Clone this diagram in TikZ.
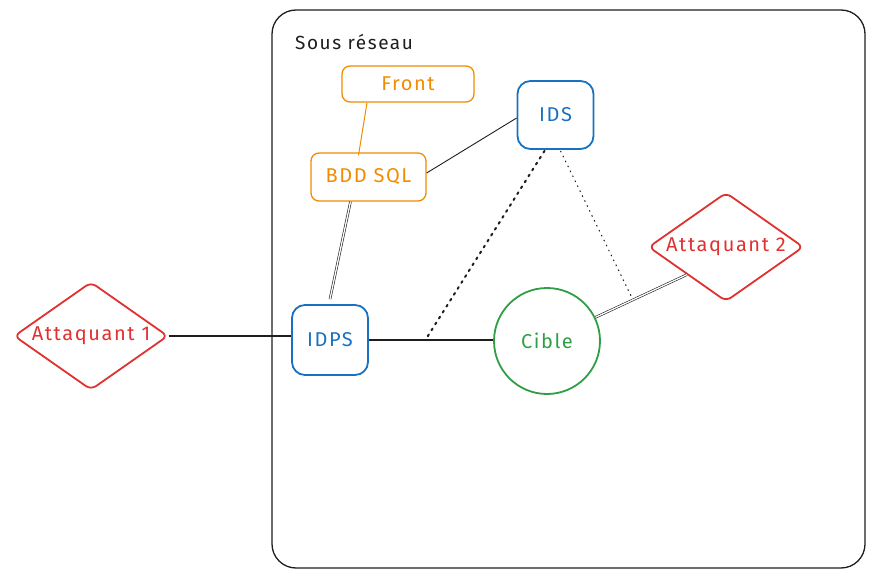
\documentclass[tikz,border=0pt]{standalone}
\usepackage{fontspec}
\setmainfont{Fira Sans}[LetterSpace=8]
\usetikzlibrary{shapes.geometric,calc}
\definecolor{exorange}{HTML}{F08C00}
\definecolor{exblue}{HTML}{1971C2}
\definecolor{exgreen}{HTML}{2F9E44}
\definecolor{exred}{HTML}{E03131}
\definecolor{exblack}{HTML}{1E1E1E}
\tikzset{
  lbl/.style={font=\fontsize{20}{24}\selectfont},
  orangebox/.style={draw=exorange, text=exorange, line width=1.3pt, rounded corners=8pt, lbl, inner sep=0pt},
  bluebox/.style={draw=exblue, text=exblue, line width=1.8pt, rounded corners=13pt, lbl, inner sep=0pt, minimum width=76pt},
  attacker/.style={draw=exred, text=exred, line width=1.8pt, diamond, aspect=1.43, inner sep=0pt, rounded corners=6pt, lbl},
  target/.style={draw=exgreen, text=exgreen, line width=1.8pt, circle, minimum size=106pt, inner sep=0pt, lbl},
  link/.style={draw=exblack, line width=0.9pt},
  thicklink/.style={draw=exblack, line width=2pt},
  dbl/.style={draw=exblack, double=white, double distance=1.3pt, line width=0.6pt},
  dotthick/.style={draw=exblack, line width=2pt, dash pattern=on 2pt off 5pt, line cap=round},
  dotthin/.style={draw=exblack, line width=1pt, dash pattern=on 1.5pt off 4pt},
}
\begin{document}
\begin{tikzpicture}[x=1pt,y=-1pt]
\useasboundingbox (0,0) rectangle (876,580);
% subnet frame
\node[draw=exblack, line width=1.3pt, rounded corners=24pt, minimum width=593pt, minimum height=558pt, inner sep=0pt] (subnet) at (568.5,289) {};
\node[anchor=west, text=exblack, inner sep=0pt, font=\fontsize{19}{22}\selectfont] (title) at (295,42) {Sous réseau};
% nodes
\node[orangebox, minimum width=132pt, minimum height=36pt] (front) at (408,84) {Front};
\node[orangebox, minimum width=115pt, minimum height=48pt] (bdd) at (368.5,177) {BDD SQL};
\node[bluebox, minimum height=68pt] (ids) at (555.5,115) {IDS};
\node[bluebox, minimum height=70pt] (idps) at (330,340) {IDPS};
\node[target] (cible) at (547,341) {Cible};
\node[attacker, minimum width=154pt, minimum height=108pt] (att1) at (91,336) {Attaquant 1};
\node[attacker, minimum width=155pt, minimum height=109pt] (att2) at (726,247) {Attaquant 2};
\coordinate (j) at (426,339);
\coordinate (k) at (633,300);
% connectors
\draw[exorange, line width=1pt] ($(front.south)+(-41,0)$) -- ($(bdd.north)+(-10,3)$);
\draw[link] ($(bdd.east)+(0,-4)$) -- ($(ids.west)+(0,3)$);
\draw[dbl] ($(bdd.south)+(-18,0)$) -- ($(idps.north)+(0,-5)$);
\draw[thicklink] (att1.east) -- (att1.east -| idps.west);
\draw[thicklink] (idps.east) -- (idps.east -| cible.west);
\draw[dotthick] ($(ids.south)+(-11,1)$) -- (j);
\draw[dotthin] ($(ids.south)+(5,1)$) -- (k);
\draw[dbl] (cible.26) -- (att2.south west);
\end{tikzpicture}
\end{document}
